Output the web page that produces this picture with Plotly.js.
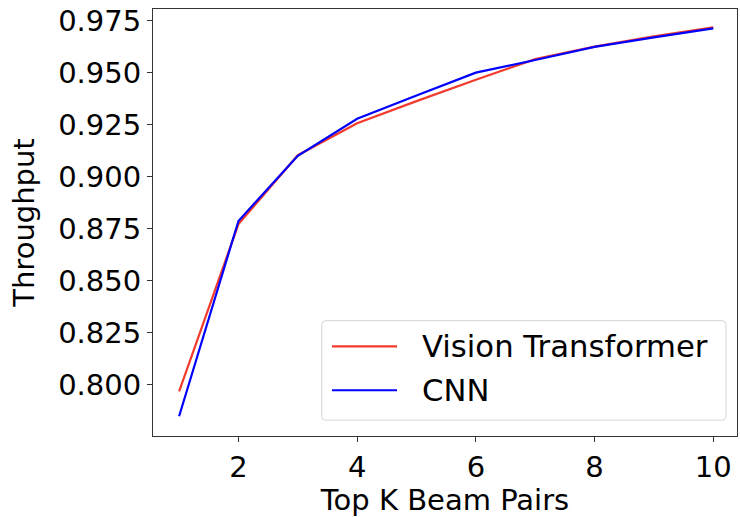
<!DOCTYPE html>
<html>
<head>
<meta charset="utf-8">
<script src="https://cdn.plot.ly/plotly-3.0.1.min.js"></script>
<style>html,body{margin:0;padding:0;background:#fff;}#chart{width:740px;height:517px;}</style>
</head>
<body>
<div id="chart"></div>
<script>
const topK = [1, 2, 3, 4, 5, 6, 7, 8, 9, 10];
const vitThroughput = [0.7968, 0.8772, 0.9103, 0.9257, 0.9363, 0.9466, 0.9565, 0.9625, 0.9675, 0.9718];
const cnnThroughput = [0.7848, 0.8787, 0.9100, 0.9278, 0.9390, 0.9500, 0.9561, 0.9624, 0.9670, 0.9713];
const seriesNames = ["Vision Transformer", "CNN"];
const seriesColors = ["#f23b2c", "#0000ff"];
const yTickVals = [0.800, 0.825, 0.850, 0.875, 0.900, 0.925, 0.950, 0.975];
const yTickText = ["0.800", "0.825", "0.850", "0.875", "0.900", "0.925", "0.950", "0.975"];
const xTickVals = [2, 4, 6, 8, 10];

const font = {family: "DejaVu Sans, sans-serif", size: 29, color: "#000"};
const legendFont = {family: "DejaVu Sans, sans-serif", size: 30.7, color: "#000"};

const W = 740, H = 517;
const M = {l: 153, r: 3, t: 9, b: 80.5};
const pw = W - M.l - M.r, ph = H - M.t - M.b;
const px2x = p => (p - M.l) / pw;
const px2y = p => (H - M.b - p) / ph;

const traces = [
  {x: topK, y: vitThroughput, type: "scatter", mode: "lines", name: seriesNames[0],
   line: {color: seriesColors[0], width: 2.2}},
  {x: topK, y: cnnThroughput, type: "scatter", mode: "lines", name: seriesNames[1],
   line: {color: seriesColors[1], width: 2.2}}
];

// legend (matplotlib-style) built in paper coordinates
const box = {x0: px2x(321.7), x1: px2x(726), y0: px2y(420.7), y1: px2y(321)};
const rx = 4 / pw, ry = 4 / ph;
const boxPath = `M ${box.x0 + rx} ${box.y0} L ${box.x1 - rx} ${box.y0} Q ${box.x1} ${box.y0} ${box.x1} ${box.y0 + ry} ` +
  `L ${box.x1} ${box.y1 - ry} Q ${box.x1} ${box.y1} ${box.x1 - rx} ${box.y1} ` +
  `L ${box.x0 + rx} ${box.y1} Q ${box.x0} ${box.y1} ${box.x0} ${box.y1 - ry} ` +
  `L ${box.x0} ${box.y0 + ry} Q ${box.x0} ${box.y0} ${box.x0 + rx} ${box.y0} Z`;
const rowY = [px2y(346.7), px2y(390.7)];
const shapes = [{type: "path", xref: "paper", yref: "paper", path: boxPath,
  fillcolor: "rgba(255,255,255,0.85)", line: {color: "#d6d6d6", width: 1}, layer: "above"}];
const annotations = [];
seriesNames.forEach((n, i) => {
  shapes.push({type: "line", xref: "paper", yref: "paper", x0: px2x(332), x1: px2x(397),
    y0: rowY[i], y1: rowY[i], line: {color: seriesColors[i], width: 2.2}, layer: "above"});
  annotations.push({xref: "paper", yref: "paper", x: px2x(420), y: rowY[i], xanchor: "left",
    yanchor: "middle", text: n, showarrow: false, font: legendFont});
});

const layout = {
  width: W, height: H,
  margin: M,
  paper_bgcolor: "#fff", plot_bgcolor: "#fff",
  font: font,
  showlegend: false,
  shapes: shapes,
  annotations: annotations,
  xaxis: {range: [0.56, 10.40], tickvals: xTickVals, ticktext: xTickVals.map(String),
          showgrid: false, zeroline: false, ticks: "outside", ticklen: 5, tickwidth: 1,
          tickcolor: "#333", showline: true, linecolor: "#333", linewidth: 1, mirror: true,
          tickfont: font,
          title: {text: "Top K Beam Pairs", font: font, standoff: 4}},
  yaxis: {range: [0.7753, 0.9806], tickvals: yTickVals, ticktext: yTickText,
          showgrid: false, zeroline: false, ticks: "outside", ticklen: 5, tickwidth: 1,
          tickcolor: "#333", showline: true, linecolor: "#333", linewidth: 1, mirror: true,
          tickfont: font,
          title: {text: "Throughput", font: font, standoff: 15}}
};

Plotly.newPlot("chart", traces, layout, {displayModeBar: false, staticPlot: true});
</script>
</body>
</html>
